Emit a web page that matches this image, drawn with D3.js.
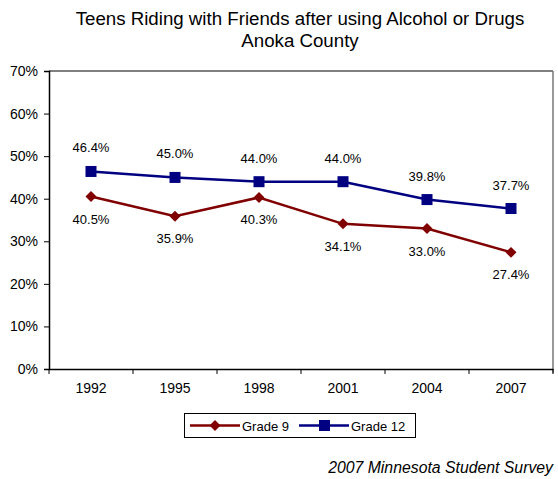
<!DOCTYPE html>
<html><head><meta charset="utf-8">
<script src="https://cdn.jsdelivr.net/npm/d3@7"></script>
<style>body{margin:0;background:#fff}svg{display:block;font-family:Arial,"Liberation Sans",sans-serif}</style>
</head><body><svg id="c" width="558" height="479"></svg>
<script>
const years = ["1992","1995","1998","2001","2004","2007"];
const grade9 = [40.5, 35.9, 40.3, 34.1, 33.0, 27.4];
const grade12 = [46.4, 45.0, 44.0, 44.0, 39.8, 37.7];
const yTicks = [0,10,20,30,40,50,60,70];
const seriesNames = ["Grade 9","Grade 12"];
const titleLines = ["Teens Riding with Friends after using Alcohol or Drugs","Anoka County"];
const source = "2007 Minnesota Student Survey";

const svg = d3.select("#c");
const L=49, R=553, T=71, B=369;
const x = d3.scaleBand().domain(years).range([L,R]);
const y = d3.scaleLinear().domain([0,70]).range([B,T]);

// title
svg.append("g").selectAll("text").data(titleLines).join("text")
  .attr("x",300).attr("y",(d,i)=>25+i*22).attr("text-anchor","middle")
  .attr("font-size",18.7).attr("fill","#000").text(d=>d);

// frame
svg.append("line").attr("x1",L).attr("x2",R).attr("y1",T).attr("y2",T).attr("stroke","#000").attr("stroke-width",1.2);
svg.append("line").attr("x1",R).attr("x2",R).attr("y1",T).attr("y2",B+4).attr("stroke","#777").attr("stroke-width",1.5);

// y axis
const ya = svg.append("g").attr("transform",`translate(${L},0)`)
  .call(d3.axisLeft(y).tickValues(yTicks).tickFormat(d=>d+"%").tickSize(5).tickPadding(6));
ya.select(".domain").attr("stroke","#000").attr("stroke-width",1.5);
ya.selectAll("text").attr("font-size",14).attr("font-family","Arial, Liberation Sans, sans-serif").attr("fill","#000");

// x axis
const xa = svg.append("g").attr("transform",`translate(0,${B})`)
  .call(d3.axisBottom(x).tickSize(0).tickPadding(14));
xa.select(".domain").attr("stroke","#000").attr("stroke-width",1.5);
xa.selectAll("text").attr("font-size",14).attr("font-family","Arial, Liberation Sans, sans-serif").attr("fill","#000");
const bounds = years.map(d=>x(d)).concat([R]);
svg.append("g").selectAll("line").data(bounds).join("line")
  .attr("x1",d=>d).attr("x2",d=>d).attr("y1",B).attr("y2",B+5).attr("stroke","#000");

const cx = d=>x(d)+x.bandwidth()/2;
const line = d3.line().x((d,i)=>cx(years[i])).y(d=>y(d));
const red="#800000", blue="#000080";

svg.append("path").datum(grade9).attr("d",line).attr("fill","none").attr("stroke",red).attr("stroke-width",2.5);
svg.append("path").datum(grade12).attr("d",line).attr("fill","none").attr("stroke",blue).attr("stroke-width",2.5);

svg.append("g").selectAll("path").data(grade9).join("path")
  .attr("d", d3.symbol().type(d3.symbolSquare).size(60))
  .attr("transform",(d,i)=>`translate(${cx(years[i])},${y(d)}) rotate(45)`).attr("fill",red);
svg.append("g").selectAll("rect").data(grade12).join("rect")
  .attr("x",(d,i)=>cx(years[i])-5.5).attr("y",d=>y(d)-5.5).attr("width",11).attr("height",11).attr("fill",blue);

// labels
svg.append("g").selectAll("text").data(grade12).join("text")
  .attr("x",(d,i)=>cx(years[i])).attr("y",d=>y(d)-19).attr("text-anchor","middle")
  .attr("font-size",13).attr("fill","#000").text(d=>d.toFixed(1)+"%");
svg.append("g").selectAll("text").data(grade9).join("text")
  .attr("x",(d,i)=>cx(years[i])).attr("y",d=>y(d)+27).attr("text-anchor","middle")
  .attr("font-size",13).attr("fill","#000").text(d=>d.toFixed(1)+"%");

// legend
const lg = svg.append("g");
lg.append("rect").attr("x",184.5).attr("y",413.5).attr("width",231).attr("height",24).attr("fill","#fff").attr("stroke","#000");
const items = [{n:seriesNames[0],c:red,x0:190,t:"d"},{n:seriesNames[1],c:blue,x0:299,t:"s"}];
items.forEach(it=>{
  lg.append("line").attr("x1",it.x0).attr("x2",it.x0+50).attr("y1",425.5).attr("y2",425.5).attr("stroke",it.c).attr("stroke-width",2.5);
  if(it.t==="d") lg.append("path").attr("d",d3.symbol().type(d3.symbolSquare).size(60)).attr("transform",`translate(${it.x0+25},425.5) rotate(45)`).attr("fill",it.c);
  else lg.append("rect").attr("x",it.x0+20).attr("y",420).attr("width",11).attr("height",11).attr("fill",it.c);
  lg.append("text").attr("x",it.x0+52).attr("y",430.5).attr("font-size",13).attr("fill","#000").text(it.n);
});

// source
svg.append("text").attr("x",553).attr("y",473).attr("text-anchor","end").attr("font-size",15.8)
  .attr("font-style","italic").attr("fill","#000").text(source);
</script></body></html>
